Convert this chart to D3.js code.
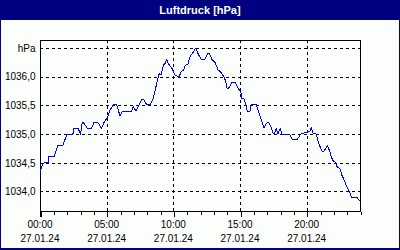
<!DOCTYPE html>
<html>
<head>
<meta charset="utf-8">
<script src="https://cdn.jsdelivr.net/npm/d3@7"></script>
<style>
  html, body { margin: 0; padding: 0; background: #000080; }
  svg { display: block; }
</style>
</head>
<body>
<svg id="chart" width="400" height="250"></svg>
<script>
// ---- data ----
const title = "Luftdruck [hPa]";
const dateLabel = "27.01.24";
const times = ["00:00","00:09","00:18","00:36","00:40","01:03","01:21","01:43","02:01","02:28","02:33","02:51","03:03","03:10","03:20","03:33","03:51","04:03","04:21","04:36","04:48","05:05","05:15","05:30","05:45","06:00","06:10","06:50","07:00","07:12","07:26","07:40","07:49","08:00","08:15","08:30","08:45","08:56","09:05","09:15","09:23","09:30","09:37","09:53","10:08","10:17","10:27","10:36","10:47","10:54","11:06","11:16","11:27","11:36","11:42","11:47","11:54","12:06","12:21","12:36","12:42","12:54","13:09","13:21","13:36","13:47","13:54","14:02","14:09","14:24","14:39","14:51","15:03","15:09","15:18","15:24","15:33","15:44","15:51","16:13","16:24","16:36","16:48","16:58","17:09","17:18","17:29","17:36","17:43","17:51","18:01","18:09","18:44","18:54","19:18","19:33","20:14","20:21","20:29","20:43","20:54","21:09","21:18","21:33","21:44","21:51","22:00","22:09","22:18","22:29","22:39","22:51","23:03","23:14","23:21","23:39","23:48","23:59"];
const pressure = [1034.33,1034.45,1034.50,1034.50,1034.61,1034.61,1034.80,1034.80,1035.00,1035.00,1035.10,1035.10,1035.00,1035.21,1035.18,1035.10,1035.10,1035.20,1035.20,1035.10,1035.20,1035.30,1035.42,1035.51,1035.51,1035.32,1035.39,1035.39,1035.48,1035.40,1035.51,1035.61,1035.59,1035.51,1035.51,1035.62,1035.88,1036.05,1036.03,1036.20,1036.23,1036.30,1036.23,1036.15,1036.03,1036.01,1036.01,1036.09,1036.12,1036.20,1036.22,1036.36,1036.41,1036.47,1036.50,1036.44,1036.38,1036.30,1036.30,1036.41,1036.40,1036.30,1036.24,1036.12,1036.07,1036.00,1035.94,1035.80,1035.80,1035.90,1035.90,1035.80,1035.74,1035.62,1035.61,1035.54,1035.39,1035.39,1035.51,1035.51,1035.39,1035.25,1035.10,1035.19,1035.20,1035.14,1035.01,1035.01,1035.10,1035.01,1035.10,1035.00,1035.00,1034.91,1034.91,1035.00,1035.05,1035.11,1035.02,1035.00,1034.84,1034.70,1034.70,1034.80,1034.70,1034.60,1034.53,1034.51,1034.42,1034.40,1034.28,1034.18,1034.06,1033.99,1033.90,1033.90,1033.89,1033.83];
const yTicks = [1034.0, 1034.5, 1035.0, 1035.5, 1036.0, 1036.5];
const yTopLabel = "hPa";
const xMajorTicks = ["00:00","05:00","10:00","15:00","20:00"];
const yDomain = [1033.66, 1036.64];

// ---- layout ----
const svg = d3.select("#chart");
const W = 400, H = 250;
const L = 40, R = 360, T = 40, B = 211;

const toMin = s => { const [h, m] = s.split(":").map(Number); return h * 60 + m; };
const data = times.map((t, i) => ({ t: toMin(t), v: pressure[i] }));

const x = d3.scaleLinear().domain([0, 1440]).range([L, R]);
const y = d3.scaleLinear().domain(yDomain).range([B, T]);

// frame
svg.append("rect").attr("x", 0).attr("y", 0).attr("width", W).attr("height", H).attr("fill", "#000080");
svg.append("rect").attr("x", 1).attr("y", 20).attr("width", 398).attr("height", 228).attr("fill", "#fbfefb");

svg.append("text").attr("x", 200).attr("y", 14).attr("text-anchor", "middle")
  .attr("fill", "#ffffff").attr("font-family", "Liberation Sans, Arial, sans-serif")
  .attr("font-weight", "bold").attr("font-size", 11).text(title);

const font = "Liberation Sans, Arial, sans-serif";

// grid
const g = svg.append("g").attr("shape-rendering", "crispEdges");
g.selectAll("line.hg").data(yTicks).enter().append("line")
  .attr("x1", L).attr("x2", R)
  .attr("y1", d => Math.round(y(d)) + 0.5).attr("y2", d => Math.round(y(d)) + 0.5)
  .attr("stroke", "#000").attr("stroke-dasharray", "3,3");
g.selectAll("line.vg").data(xMajorTicks.slice(1)).enter().append("line")
  .attr("x1", d => Math.round(x(toMin(d))) + 0.5).attr("x2", d => Math.round(x(toMin(d))) + 0.5)
  .attr("y1", T).attr("y2", B)
  .attr("stroke", "#000").attr("stroke-dasharray", "3,3");

// box top/right
g.append("line").attr("x1", L).attr("x2", R + 1).attr("y1", T + 0.5).attr("y2", T + 0.5).attr("stroke", "#000");
g.append("line").attr("x1", R + 0.5).attr("x2", R + 0.5).attr("y1", T).attr("y2", B).attr("stroke", "#000");

// x axis
const xAxis = d3.axisBottom(x)
  .tickValues(d3.range(0, 1441, 60))
  .tickSize(3)
  .tickFormat("");
const xa = svg.append("g").attr("transform", `translate(0.5,${B + 0.5})`).attr("shape-rendering", "crispEdges").call(xAxis);
xa.select(".domain").attr("d", `M${L - 0.5},0H${R + 0.5}`).attr("stroke", "#000");
xa.selectAll(".tick line").attr("stroke", "#000")
  .attr("y2", d => d % 300 === 0 ? 5 : 3);

const xl = svg.append("g");
xl.selectAll("text.t").data(xMajorTicks).enter().append("text")
  .attr("x", d => x(toMin(d))).attr("y", 228).attr("text-anchor", "middle")
  .attr("font-family", font).attr("font-size", 10).attr("fill", "#000").text(d => d);
xl.selectAll("text.d").data(xMajorTicks).enter().append("text")
  .attr("x", d => x(toMin(d))).attr("y", 242).attr("text-anchor", "middle")
  .attr("font-family", font).attr("font-size", 10).attr("fill", "#000").text(dateLabel);

// y axis
const yAxis = d3.axisLeft(y).tickValues(yTicks).tickSize(0)
  .tickFormat(d => d === yTicks[yTicks.length - 1] ? yTopLabel : d3.format(".1f")(d).replace(".", ","));
const ya = svg.append("g").attr("transform", `translate(${L + 0.5},0)`).attr("shape-rendering", "crispEdges").call(yAxis);
ya.select(".domain").attr("d", `M0,${T}V${B + 6}`).attr("stroke", "#000");
ya.selectAll(".tick text").attr("x", -5).attr("font-family", font).attr("font-size", 10).attr("fill", "#000");

// line
const line = d3.line().x(d => x(d.t)).y(d => y(d.v));
svg.append("path").datum(data).attr("d", line)
  .attr("fill", "none").attr("stroke", "#0000ff").attr("stroke-width", 1)
  .attr("shape-rendering", "crispEdges");
</script>
</body>
</html>
